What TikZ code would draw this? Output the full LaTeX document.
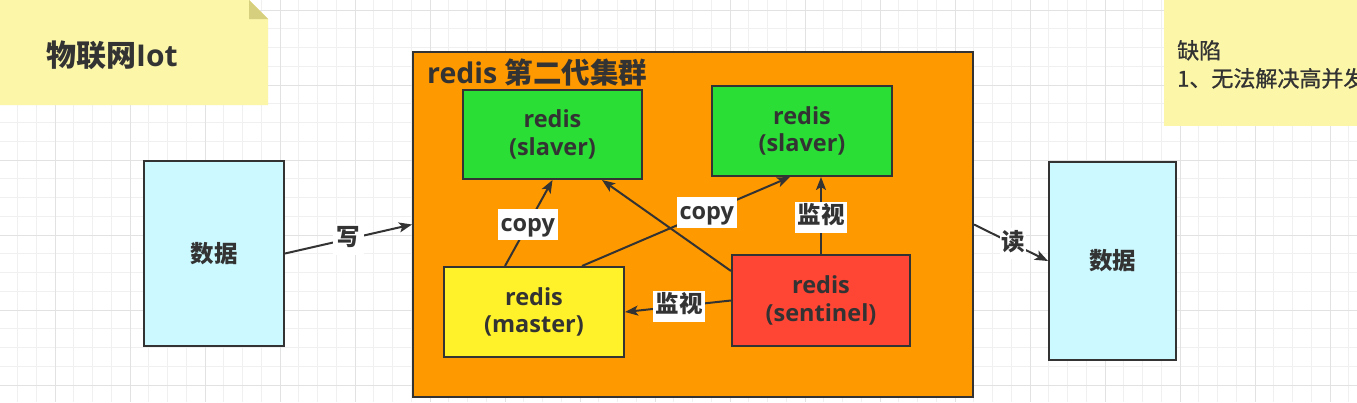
\documentclass[tikz,border=0pt]{standalone}
\usepackage{fontspec}
\setmainfont{Open Sans}
\newfontfamily\cjk{Noto Sans CJK SC}
\newfontfamily\cjkmed{Noto Sans CJK SC}[FakeBold=1]
\usetikzlibrary{arrows.meta,calc}
\definecolor{ink}{HTML}{333333}
\definecolor{orangefill}{HTML}{FF9900}
\definecolor{greenfill}{HTML}{2ADE36}
\definecolor{yellowfill}{HTML}{FFF22A}
\definecolor{redfill}{HTML}{FF4534}
\definecolor{cyanfill}{HTML}{CCF9FF}
\definecolor{notefill}{HTML}{FBF6A8}
\definecolor{notefold}{HTML}{D6CF7E}
\definecolor{gridminor}{HTML}{F0F0F0}
\definecolor{gridmajor}{HTML}{E2E2E2}
\tikzset{
  boxstyle/.style={draw=ink, line width=2pt, rectangle, align=center, text=ink,
    font=\fontsize{23.5}{27.5}\selectfont\bfseries},
  conn/.style={draw=ink, line width=2pt, -{Stealth[length=13pt,width=10pt,inset=3pt]}},
  lbl/.style={font=\fontsize{23.5}{27}\selectfont\bfseries, fill=white, text=ink,
    inner xsep=2.5pt, inner ysep=3pt, text height=19pt, text depth=6pt},
  minorgrid/.style={draw=gridminor, line width=0.8pt},
  majorgrid/.style={draw=gridmajor, line width=1pt},
}
\begin{document}
\begin{tikzpicture}[x=1pt,y=-1pt]
\useasboundingbox (0,0) rectangle (1357,402);
\clip (0,0) rectangle (1357,402);
\fill[white] (0,0) rectangle (1357,402);
% grid
\foreach \i in {0,...,72} \draw[minorgrid] ({17.5+18.75*\i},0) -- ({17.5+18.75*\i},402);
\foreach \i in {0,...,21} \draw[minorgrid] (0,{10+18.75*\i}) -- (1357,{10+18.75*\i});
\foreach \i in {0,...,18} \draw[majorgrid] ({55+75*\i},0) -- ({55+75*\i},402);
\foreach \i in {0,...,5} \draw[majorgrid] (0,{10+75*\i}) -- (1357,{10+75*\i});

% left note
\fill[notefill] (0,0) -- (249,0) -- (268,19) -- (268,105) -- (0,105) -- cycle;
\fill[notefold] (249,0) -- (268,19) -- (249,19) -- cycle;
\node[anchor=west, text=ink, inner sep=0pt, font=\fontsize{30}{34}\selectfont\bfseries]
  (title) at (46,55) {{\cjk 物联网}Iot};

% right note
\fill[notefill] (1164,0) rectangle (1380,126);
\node[anchor=north west, text=ink, inner sep=0pt, align=left,
  font=\fontsize{22}{28}\selectfont\cjkmed] (defect) at (1177,40)
  {缺陷\\1、无法解决高并发};

% data boxes
\node[boxstyle, fill=cyanfill, minimum width=140pt, minimum height=185pt] (dl) at (214,253.5) {\cjk 数据};
\node[boxstyle, fill=cyanfill, minimum width=127pt, minimum height=198pt] (dr) at (1112.5,261) {\cjk 数据};

% cluster
\node[draw=ink, line width=2pt, fill=orangefill, minimum width=560pt, minimum height=345pt] (cluster) at (693,224.5) {};
\node[anchor=west, text=ink, inner sep=0pt, font=\fontsize{28.5}{32}\selectfont\bfseries]
  (ctitle) at (427,73) {redis {\cjk 第二代集群}};

\node[boxstyle, fill=greenfill, minimum width=179pt, minimum height=89pt] (s1) at (552.5,134.5) {redis\\(slaver)};
\node[boxstyle, fill=greenfill, minimum width=180pt, minimum height=90pt] (s2) at (802,131) {redis\\(slaver)};
\node[boxstyle, fill=yellowfill, minimum width=180pt, minimum height=90pt] (m) at (534,312) {redis\\(master)};
\node[boxstyle, fill=redfill, minimum width=178pt, minimum height=91pt] (sen) at (821,300.5) {redis\\(sentinel)};

% connectors
\draw[conn] (dl.east) -- node[lbl, pos=0.5, inner xsep=4pt] (lw) {\cjk 写} (cluster.west);
\draw[conn] (cluster.east) -- node[lbl, pos=0.53, inner xsep=1pt] (lr) {\cjk 读} (dr.west);
\draw[conn] ([xshift=-29pt]m.north) -- node[lbl, pos=0.48] (lc1) {copy} (s1.south);
\draw[conn] ([xshift=48pt]m.north) -- node[lbl, pos=0.6] (lc2) {copy} ([xshift=-12pt]s2.south);
\draw[conn] ([yshift=29.5pt]sen.west) -- ([xshift=49.5pt]s1.south);
\draw[conn] (sen.north) -- node[lbl, pos=0.48] (lm1) {\cjk 监视} (sen.north |- s2.south);
\draw[conn] (sen.west) -- node[lbl, pos=0.49] (lm2) {\cjk 监视} (m.east);
\end{tikzpicture}
\end{document}
